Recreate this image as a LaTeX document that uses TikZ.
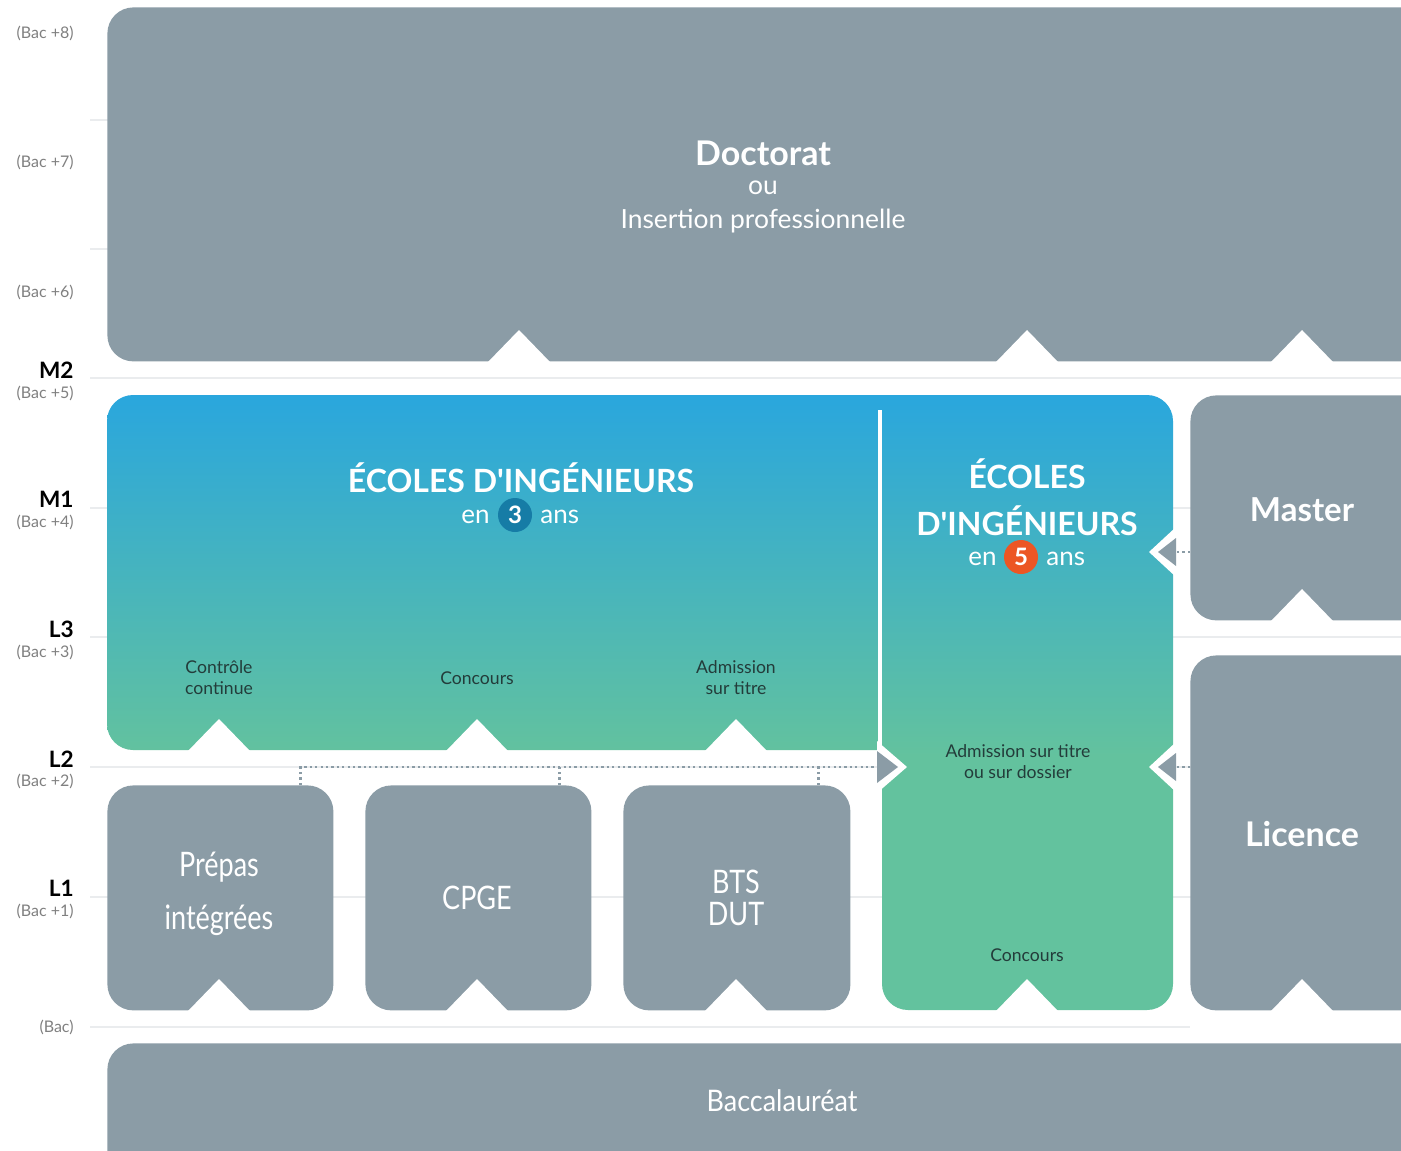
\documentclass[tikz,border=0pt]{standalone}
\usepackage{fontspec}
\setmainfont{Lato}[Ligatures=TeXOff]
\usepackage{graphicx}
\definecolor{boxgrey}{RGB}{139,156,166}
\definecolor{gtop}{RGB}{41,166,222}
\definecolor{gbot}{RGB}{99,194,158}
\definecolor{darktxt}{RGB}{35,60,58}
\definecolor{cthree}{RGB}{22,124,166}
\definecolor{cfive}{RGB}{236,86,36}
\definecolor{gridc}{RGB}{234,236,238}
\definecolor{lvlgrey}{RGB}{128,128,128}
\newcommand\mynotch[2]{\fill[white] (#1-32,#2+2) -- (#1,#2-31) -- (#1+32,#2+2) -- cycle;}
\begin{document}
\begin{tikzpicture}[x=0.5pt,y=-0.5pt,
  greybox/.style={fill=boxgrey, rounded corners=13pt, inner sep=0, anchor=north west},
  gridline/.style={draw=gridc, line width=0.6pt},
  lvllbl/.style={anchor=east, inner sep=0, font=\fontsize{11.3}{13}\selectfont\bfseries, text=black},
  baclbl/.style={anchor=east, inner sep=0, font=\fontsize{8}{9}\selectfont, text=lvlgrey},
  wbold/.style={inner sep=0, text=white, font=\bfseries\fontsize{16.5}{19}\selectfont},
  wreg/.style={inner sep=0, text=white, font=\fontsize{13.2}{15}\selectfont},
  small/.style={inner sep=0, text=darktxt, align=center, font=\fontsize{8.8}{10.5}\selectfont},
  boxtxt/.style={inner sep=0, text=white, font=\fontsize{13.5}{16}\selectfont},
  badge/.style={circle, inner sep=0, minimum size=17pt, text=white, font=\bfseries\fontsize{12}{12}\selectfont},
  dotline/.style={draw=boxgrey, line width=1.4pt, dash pattern=on 1.1pt off 1.6pt},
  arrowhead/.style={fill=boxgrey}]
\useasboundingbox (0,0) rectangle (1401,1150);
\clip (0,0) rectangle (1401,1150);
\fill[white] (0,0) rectangle (1401,1150);

% grid lines
\foreach \yy in {120,249,378,508,637,767,897}
  \draw[gridline] (90,\yy) -- (1401,\yy);
\draw[gridline] (90,1027) -- (1190,1027);

% level labels
\node[baclbl] (b8) at (74,33) {(Bac +8)};
\node[baclbl] (b7) at (74,162) {(Bac +7)};
\node[baclbl] (b6) at (74,292) {(Bac +6)};
\node[lvllbl] (m2) at (74,370) {M2};
\node[baclbl] (b5) at (74,393) {(Bac +5)};
\node[lvllbl] (m1) at (74,499) {M1};
\node[baclbl] (b4) at (74,522) {(Bac +4)};
\node[lvllbl] (l3) at (74,629) {L3};
\node[baclbl] (b3) at (74,652) {(Bac +3)};
\node[lvllbl] (l2) at (74,759) {L2};
\node[baclbl] (b2) at (74,781) {(Bac +2)};
\node[lvllbl] (l1) at (74,888) {L1};
\node[baclbl] (b1) at (74,911) {(Bac +1)};
\node[baclbl] (b0) at (74,1027) {(Bac)};

% grey boxes
\node[greybox, minimum width=670pt, minimum height=177pt] (doct) at (107,7) {};
\node[greybox, minimum width=113pt, minimum height=112.5pt] (prepas) at (107,785) {};
\node[greybox, minimum width=113pt, minimum height=112.5pt] (cpge) at (365,785) {};
\node[greybox, minimum width=113.5pt, minimum height=112.5pt] (bts) at (623,785) {};
\node[greybox, minimum width=130pt, minimum height=112.5pt] (master) at (1190,395) {};
\node[greybox, minimum width=130pt, minimum height=177.5pt] (licence) at (1190,655) {};
\node[greybox, minimum width=670pt, minimum height=80pt] (bac) at (107,1043) {};

% gradient engineering schools block
\begin{scope}
  \clip[rounded corners=13pt] (107,395) rectangle (1000,750) (882,395) rectangle (1173,1010);
  \shade[top color=gtop, bottom color=gbot] (100,390) rectangle (1180,756);
  \fill[gbot] (100,755) rectangle (1180,1015);
\end{scope}
\draw[white, line width=1.6pt] (880,410) -- (880,752);

% notches
\mynotch{519}{361} \mynotch{1027}{361} \mynotch{1302}{361}
\mynotch{219}{750} \mynotch{477}{750} \mynotch{736}{750}
\mynotch{219}{1010} \mynotch{477}{1010} \mynotch{736}{1010}
\mynotch{1027}{1010} \mynotch{1302}{620} \mynotch{1302}{1010}

% side arrow notches
\fill[white] (877,741) -- (907,767) -- (877,793) -- cycle;
\fill[arrowhead] (877,751) -- (898,767) -- (877,783) -- cycle;
\fill[white] (1176,527) -- (1149,552) -- (1176,577) -- cycle;
\fill[arrowhead] (1176,538) -- (1158,552) -- (1176,566) -- cycle;
\fill[white] (1176,742) -- (1149,767) -- (1176,792) -- cycle;
\fill[arrowhead] (1176,753) -- (1158,767) -- (1176,781) -- cycle;

% dotted connectors
\coordinate (arrL) at (878,767);
\coordinate (arrM) at (1176,552);
\coordinate (arrLi) at (1176,767);
\coordinate (t1) at ([xshift=-16.5pt]prepas.north east);
\coordinate (t2) at ([xshift=-16pt]cpge.north east);
\coordinate (t3) at ([xshift=-16pt]bts.north east);
\draw[dotline] (t1) -- (t1 |- arrL) -- (arrL);
\draw[dotline] (t2) -- (t2 |- arrL);
\draw[dotline] (t3) -- (t3 |- arrL);
\draw[dotline] (master.west |- arrM) -- (arrM);
\draw[dotline] (licence.west |- arrLi) -- (arrLi);

% Doctorat texts
\node[wbold, font=\bfseries\fontsize{17}{20}\selectfont] (tdoc) at (763,153) {Doctorat};
\node[wreg] (tou) at (763,188) {ou};
\node[wreg] (tins) at (763,221) {Insertion professionnelle};

% Ecoles 3 ans
\node[wbold, font=\bfseries\fontsize{16}{19}\selectfont] (e3) at (521,478) {ÉCOLES D'INGÉNIEURS};
\node[badge, fill=cthree] (n3) at (515,515) {3};
\node[wreg, anchor=base east, font=\fontsize{13}{15}\selectfont] (en3) at ([xshift=-12.5pt]n3.base) {en};
\node[wreg, anchor=base west, font=\fontsize{13}{15}\selectfont] (ans3) at ([xshift=12.5pt]n3.base) {ans};
\node[small] (cc) at (219,678) {Contrôle\\continue};
\node[small] (conc3) at (477,678) {Concours};
\node[small] (adm3) at (736,678) {Admission\\sur titre};

% Ecoles 5 ans
\node[wbold, font=\bfseries\fontsize{16}{19}\selectfont] (e5a) at (1027,474) {ÉCOLES};
\node[wbold, font=\bfseries\fontsize{16}{19}\selectfont] (e5b) at (1027,521) {D'INGÉNIEURS};
\node[badge, fill=cfive] (n5) at (1021,557) {5};
\node[wreg, anchor=base east, font=\fontsize{13}{15}\selectfont] (en5) at ([xshift=-12pt]n5.base) {en};
\node[wreg, anchor=base west, font=\fontsize{13}{15}\selectfont] (ans5) at ([xshift=12.5pt]n5.base) {ans};
\node[small] (adm5) at (1018,762) {Admission sur titre\\ou sur dossier};
\node[small] (conc5) at (1027,955) {Concours};

% right boxes
\node[wbold] (tmaster) at (1302,510) {Master};
\node[wbold, font=\bfseries\fontsize{17}{19}\selectfont] (tlic) at (1302,834) {Licence};

% lower boxes
\node[boxtxt] (tprep1) at (219,867) {\scalebox{1}[1.25]{Prépas}};
\node[boxtxt] (tprep2) at (219,920) {\scalebox{1}[1.25]{intégrées}};
\node[boxtxt] (tcpge) at (477,898) {\scalebox{1}[1.2]{CPGE}};
\node[boxtxt] (tbts) at (736,882) {\scalebox{1}[1.2]{BTS}};
\node[boxtxt] (tdut) at (736,914) {\scalebox{1}[1.2]{DUT}};
\node[boxtxt] (tbac) at (782,1101) {\scalebox{1}[1.1]{Baccalauréat}};
\end{tikzpicture}
\end{document}
